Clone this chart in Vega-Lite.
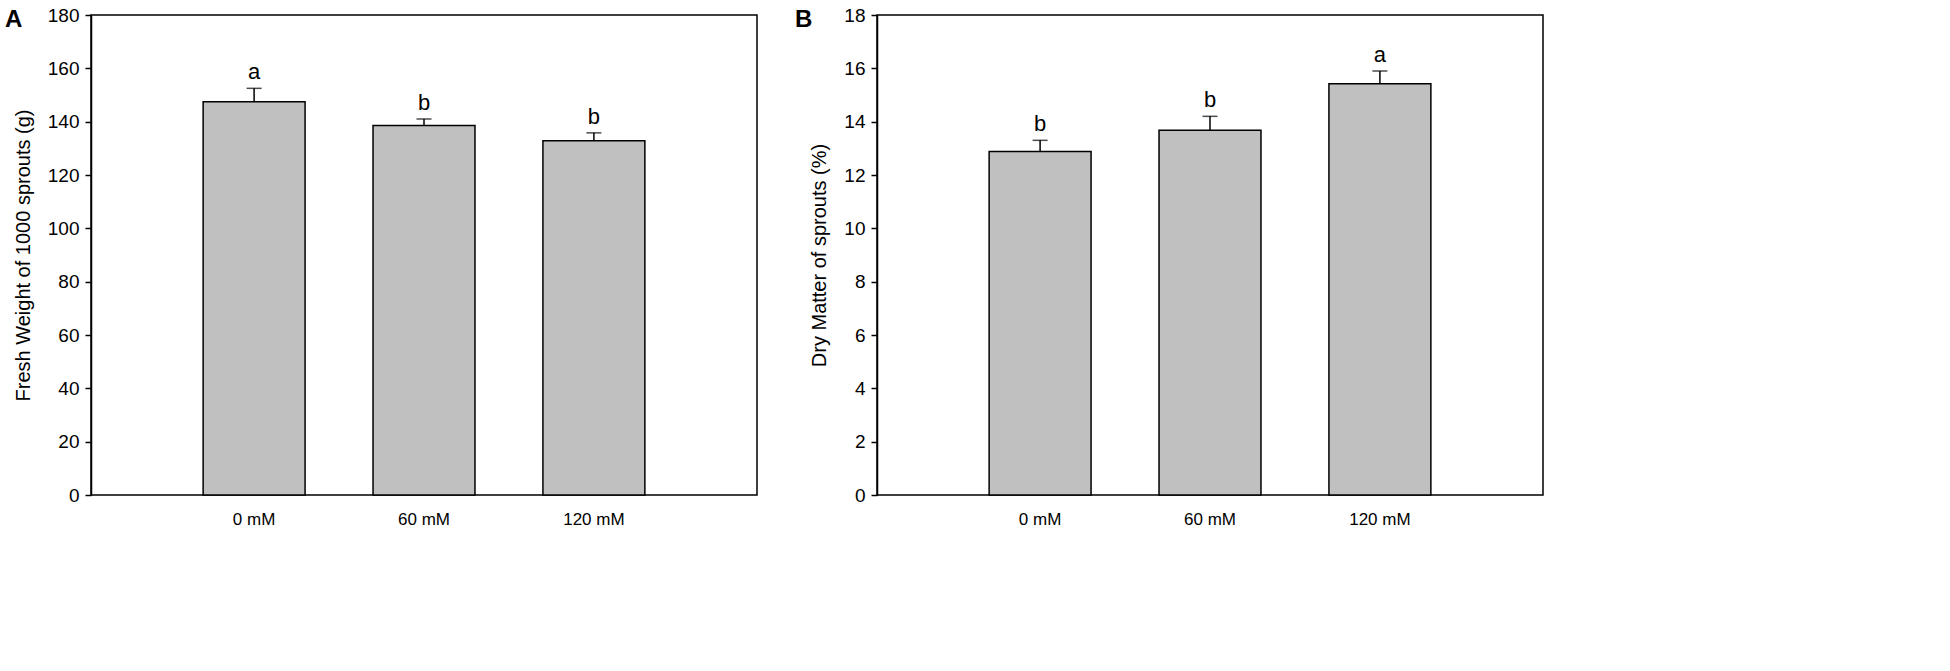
{
  "$schema": "https://vega.github.io/schema/vega-lite/v6.json",
  "background": "white",
  "padding": {"left": 4, "top": 5, "right": 5, "bottom": 5},
  "datasets": {
    "fresh": [
      {"dose": "0 mM", "mean": 147.5, "upper": 152.5, "letter": "a"},
      {"dose": "60 mM", "mean": 138.6, "upper": 141.0, "letter": "b"},
      {"dose": "120 mM", "mean": 132.8, "upper": 135.8, "letter": "b"}
    ],
    "dry": [
      {"dose": "0 mM", "mean": 12.88, "upper": 13.3, "letter": "b"},
      {"dose": "60 mM", "mean": 13.68, "upper": 14.2, "letter": "b"},
      {"dose": "120 mM", "mean": 15.42, "upper": 15.9, "letter": "a"}
    ]
  },
  "spacing": 36,
  "hconcat": [
    {
      "width": 666,
      "height": 480,
      "data": {"name": "fresh"},
      "title": {"text": "A", "anchor": "start", "frame": "group", "dx": -86, "dy": -4, "offset": -30},
      "encoding": {
        "x": {
          "field": "dose", "type": "nominal", "sort": null, "title": null,
          "scale": {"paddingInner": 0.4, "paddingOuter": 0.66}
        }
      },
      "layer": [
        {
          "mark": {"type": "bar", "fill": "#c0c0c0", "stroke": "black", "strokeWidth": 1.5},
          "encoding": {
            "y": {
              "field": "mean", "type": "quantitative",
              "title": "Fresh Weight of 1000 sprouts (g)",
              "scale": {"domain": [0, 180], "nice": false},
              "axis": {"values": [0, 20, 40, 60, 80, 100, 120, 140, 160, 180]}
            }
          }
        },
        {
          "mark": {"type": "rule", "stroke": "black", "strokeWidth": 1.5},
          "encoding": {"y": {"field": "mean", "type": "quantitative"}, "y2": {"field": "upper"}}
        },
        {
          "mark": {"type": "tick", "color": "black", "thickness": 1.5, "size": 15, "orient": "horizontal"},
          "encoding": {"y": {"field": "upper", "type": "quantitative"}}
        },
        {
          "mark": {"type": "text", "baseline": "bottom", "dy": -4, "fontSize": 22, "font": "Liberation Sans"},
          "encoding": {"y": {"field": "upper", "type": "quantitative"}, "text": {"field": "letter"}}
        }
      ]
    },
    {
      "width": 666,
      "height": 480,
      "data": {"name": "dry"},
      "title": {"text": "B", "anchor": "start", "frame": "group", "dx": -82, "dy": -4, "offset": -30},
      "encoding": {
        "x": {
          "field": "dose", "type": "nominal", "sort": null, "title": null,
          "scale": {"paddingInner": 0.4, "paddingOuter": 0.66}
        }
      },
      "layer": [
        {
          "mark": {"type": "bar", "fill": "#c0c0c0", "stroke": "black", "strokeWidth": 1.5},
          "encoding": {
            "y": {
              "field": "mean", "type": "quantitative",
              "title": "Dry Matter of sprouts (%)",
              "scale": {"domain": [0, 18], "nice": false},
              "axis": {"values": [0, 2, 4, 6, 8, 10, 12, 14, 16, 18]}
            }
          }
        },
        {
          "mark": {"type": "rule", "stroke": "black", "strokeWidth": 1.5},
          "encoding": {"y": {"field": "mean", "type": "quantitative"}, "y2": {"field": "upper"}}
        },
        {
          "mark": {"type": "tick", "color": "black", "thickness": 1.5, "size": 15, "orient": "horizontal"},
          "encoding": {"y": {"field": "upper", "type": "quantitative"}}
        },
        {
          "mark": {"type": "text", "baseline": "bottom", "dy": -4, "fontSize": 22, "font": "Liberation Sans"},
          "encoding": {"y": {"field": "upper", "type": "quantitative"}, "text": {"field": "letter"}}
        }
      ]
    }
  ],
  "config": {
    "font": "Liberation Sans",
    "view": {"stroke": "black", "strokeWidth": 1.5},
    "title": {"fontSize": 24, "fontWeight": "bold", "color": "black", "baseline": "top"},
    "axis": {
      "grid": false,
      "domainColor": "black",
      "domainWidth": 1.5,
      "tickColor": "black",
      "tickWidth": 1.5,
      "tickSize": 6,
      "labelColor": "black",
      "labelFontSize": 19,
      "labelFont": "Liberation Sans",
      "titleColor": "black",
      "titleFontSize": 20,
      "titleFontWeight": "normal",
      "titleFont": "Liberation Sans"
    },
    "axisY": {"labelPadding": 6, "titlePadding": 14},
    "axisX": {"ticks": false, "domain": false, "labelAngle": 0, "labelPadding": 16, "labelFontSize": 17}
  }
}
